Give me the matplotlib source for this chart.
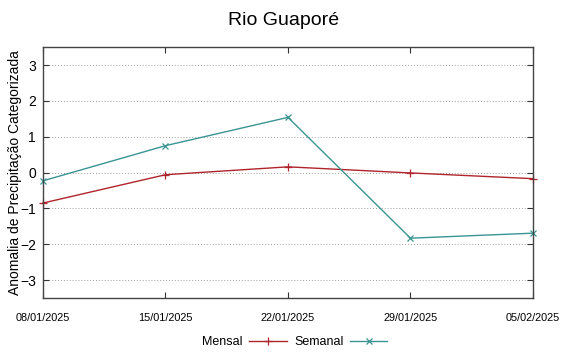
import matplotlib

matplotlib.use("Agg")
import matplotlib.pyplot as plt

plt.rcParams["font.family"] = ["Liberation Sans", "DejaVu Sans"]

dates = ["08/01/2025", "15/01/2025", "22/01/2025", "29/01/2025", "05/02/2025"]
mensal = [-0.85, -0.06, 0.16, -0.01, -0.17]
semanal = [-0.23, 0.75, 1.54, -1.83, -1.69]
yticks = [-3, -2, -1, 0, 1, 2, 3]

red = "#b0242c"
teal = "#3a9494"

fig = plt.figure(figsize=(5.67, 3.54), dpi=100)
ax = fig.add_axes([0.0758, 0.158, 0.8642, 0.709])

x = list(range(len(dates)))
ax.plot(x, mensal, color=red, lw=1.0, marker="+", ms=6, mew=0.9, label="Mensal", clip_on=False)
ax.plot(x, semanal, color=teal, lw=1.0, marker="x", ms=5, mew=0.9, label="Semanal", clip_on=False)

ax.set_xlim(0, len(dates) - 1)
ax.set_ylim(-3.5, 3.5)
ax.set_xticks(x)
ax.set_xticklabels(dates, fontsize=7.8)
ax.set_yticks(yticks)
ax.tick_params(axis="y", labelsize=10)
ax.tick_params(direction="in", top=True, right=True, length=4, width=0.8, color="#333333", pad=5)
ax.tick_params(axis="x", pad=11)
ax.yaxis.grid(True, linestyle=(0, (1, 2)), color="#a0a0a0", lw=0.7)
for s in ax.spines.values():
    s.set_color("#444444")
    s.set_linewidth(1.0)

ax.set_ylabel("Anomalia de Precipitação Categorizada", fontsize=10)
ax.yaxis.set_label_coords(-0.043, 0.5)
fig.suptitle("Rio Guaporé", fontsize=14, y=0.965)

fig.legend(loc="lower center", bbox_to_anchor=(0.52, -0.015), ncol=2, frameon=False,
           markerfirst=False, fontsize=9, handlelength=3.0, columnspacing=0.6, handletextpad=0.5)

fig.savefig("out.png", dpi=100)
